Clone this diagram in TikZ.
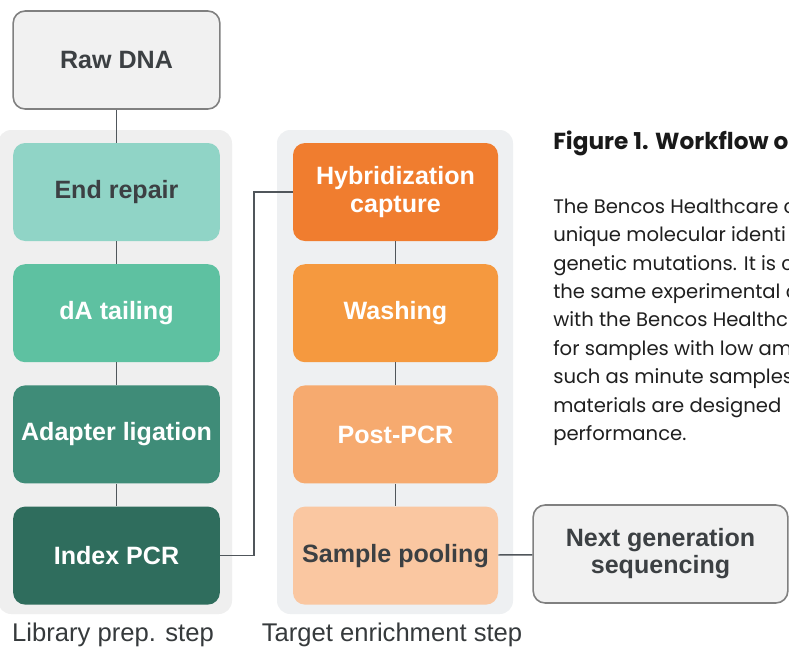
\documentclass[tikz,border=0pt]{standalone}
\usepackage{fontspec}
\setmainfont{Liberation Sans}
\newfontfamily\popfont{Poppins}
\usetikzlibrary{positioning}

\definecolor{panelL}{HTML}{EFEFEF}
\definecolor{panelR}{HTML}{EEF0F2}
\definecolor{boxgray}{HTML}{F1F1F1}
\definecolor{edgegray}{HTML}{808080}
\definecolor{txtdark}{HTML}{3C4043}
\definecolor{linkgray}{HTML}{50565B}
\definecolor{tealA}{HTML}{90D4C6}
\definecolor{tealB}{HTML}{5EC1A1}
\definecolor{tealC}{HTML}{3F8C78}
\definecolor{tealD}{HTML}{2F6D5D}
\definecolor{orA}{HTML}{F07D2F}
\definecolor{orB}{HTML}{F5993F}
\definecolor{orC}{HTML}{F6AA6F}
\definecolor{orD}{HTML}{FAC7A1}

\tikzset{
  stepbox/.style={rounded corners=9pt, minimum width=155pt, minimum height=73.5pt,
    inner sep=0pt, align=center, font=\bfseries\fontsize{18.8}{20.3}\selectfont},
  graybox/.style={stepbox, draw=edgegray, line width=1.2pt, fill=boxgray, text=txtdark},
  link/.style={draw=linkgray, line width=1.1pt},
  steplabel/.style={anchor=base, text=txtdark!90!black, font=\fontsize{19.2}{21}\selectfont}
}

\begin{document}
\begin{tikzpicture}[x=0.75pt,y=-0.75pt]
  \useasboundingbox (0,0) rectangle (789,662);
  \fill[white] (0,0) rectangle (789,662);

  % grey panels behind the two columns
  \fill[panelL, rounded corners=10pt] (-2,130) rectangle (232,614);
  \fill[panelR, rounded corners=10pt] (277,130) rectangle (513,614);

  % library prep
  \node[graybox] (RD) at (116.5,60) {Raw DNA};
  \node[stepbox, fill=tealA, text=txtdark] (ER) at (116.5,192) {End repair};
  \node[stepbox, fill=tealB, text=white, below=17pt of ER] (DA) {dA tailing};
  \node[stepbox, fill=tealC, text=white, below=17pt of DA] (AL) {Adapter ligation};
  \node[stepbox, fill=tealD, text=white, below=17pt of AL] (IP) {Index PCR};

  % target enrichment
  \node[stepbox, minimum width=153.75pt, fill=orA, text=white] (HC) at (395.5,192) {Hybridization\\capture};
  \node[stepbox, minimum width=153.75pt, fill=orB, text=white, below=17pt of HC] (WA) {Washing};
  \node[stepbox, minimum width=153.75pt, fill=orC, text=white, below=17pt of WA] (PP) {Post-PCR};
  \node[stepbox, minimum width=153.75pt, fill=orD, text=txtdark, below=17pt of PP] (SP) {Sample pooling};
  \node[graybox, minimum width=191pt] (NGS) at (660.5,554) {Next generation\\sequencing};

  \draw[link] (RD) -- (ER); \draw[link] (ER) -- (DA); \draw[link] (DA) -- (AL); \draw[link] (AL) -- (IP);
  \draw[link] (HC) -- (WA); \draw[link] (WA) -- (PP); \draw[link] (PP) -- (SP);
  \draw[link] (IP.east) -- ++(34,0) |- (HC.west);
  \draw[link] (SP) -- (NGS);

  \node[steplabel] (LL) at (113,641) {Library prep. step};
  \node[steplabel] (TL) at (392,641) {Target enrichment step};

  % caption text on the right
  \node[anchor=base west, inner sep=0pt, text=black!90,
    font=\popfont\bfseries\fontsize{17.4}{20}\selectfont] (FT) at (553,149) {Figure 1. Workflow o};
  \node[anchor=north west, inner sep=0pt, align=left, text=black!88,
    font=\popfont\fontsize{14.7}{21.3}\selectfont] (BT) at (553,198.5)
    {The Bencos Healthcare c\\unique molecular identi\\genetic mutations. It is c\\the same experimental c\\with the Bencos Healthc\\for samples with low am\\such as minute samples\\materials are designed\\performance.};
\end{tikzpicture}
\end{document}
